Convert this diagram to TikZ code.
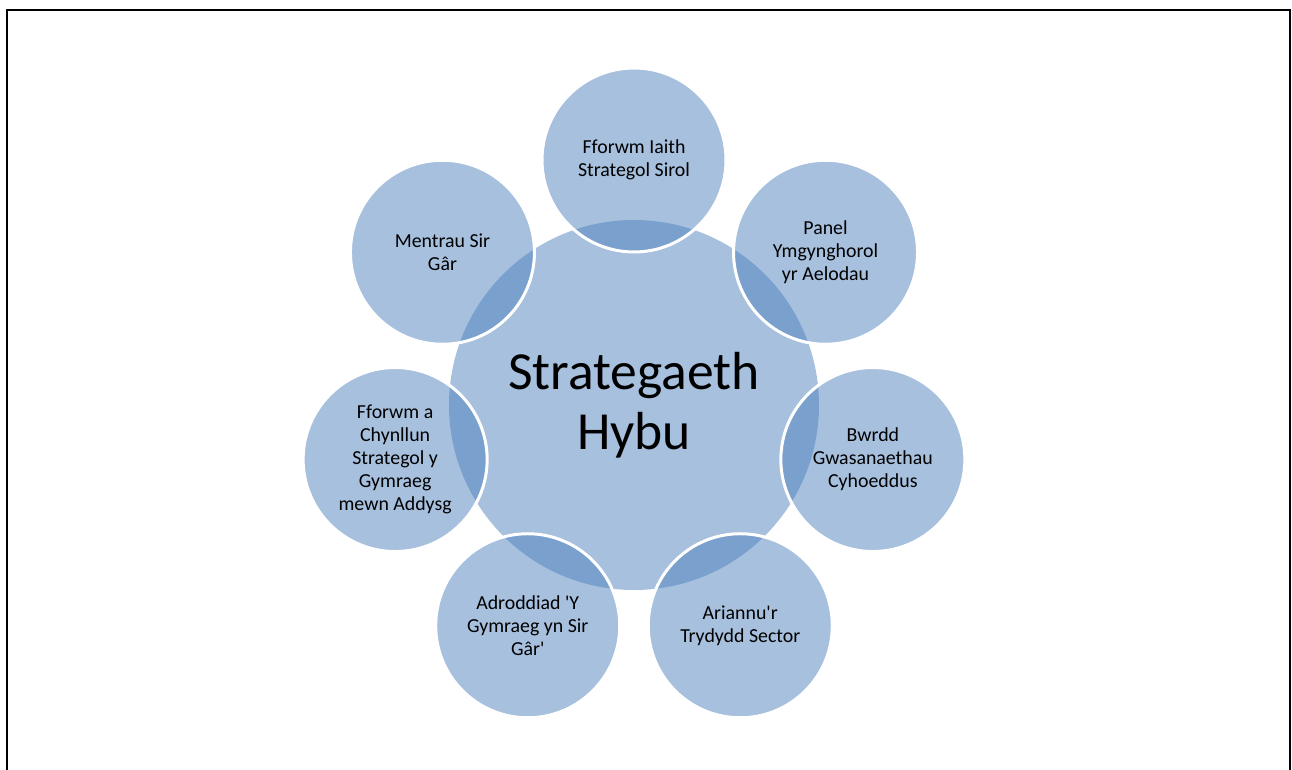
\documentclass[tikz,border=0pt]{standalone}
\usepackage{fontspec}
\setmainfont{Carlito}
\usepackage{tikz}
\definecolor{bubblefill}{HTML}{4F81BD}
\tikzset{
  bubble/.style={circle, minimum size=3.68cm, inner sep=0pt, fill=bubblefill, fill opacity=0.5,
    draw=white, line width=1.7pt, text opacity=1, text=black, align=center,
    font=\fontsize{11.3}{13}\selectfont},
  hub/.style={circle, minimum size=7.4cm, inner sep=0pt, fill=bubblefill, fill opacity=0.5,
    draw=none, text opacity=1, text=black, align=center,
    font=\fontsize{30.5}{34}\selectfont},
}

\begin{document}
\begin{tikzpicture}
			%%%%% START %%%%%
			\useasboundingbox (-12.68, -7.28) rectangle (13.16, 8.10);
			\draw[line width=0.04cm] (-12.54, -7.5) -- (-12.54, 7.90) -- (13.12, 7.90) -- (13.12, -7.5);
			
			\node[hub] (hybu) at (0, 0) {Strategaeth\\Hybu};
			
			\node[bubble] (fforwm) at (90:4.9) {Fforwm Iaith\\Strategol Sirol};
			\node[bubble] (panel) at (38.57:4.9) {Panel\\Ymgynghorol\\yr Aelodau};
			\node[bubble] (bwrdd) at (-12.86:4.9) {Bwrdd\\Gwasanaethau\\Cyhoeddus};
			\node[bubble] (ariannu) at (-64.29:4.9) {Ariannu\textquotesingle r\\Trydydd Sector};
			\node[bubble] (adroddiad) at (-115.71:4.9) {Adroddiad \textquotesingle Y\\Gymraeg yn Sir\\Gâr\textquotesingle};
			\node[bubble] (addysg) at (-167.14:4.9) {Fforwm a\\Chynllun\\Strategol y\\Gymraeg\\mewn Addysg};
			\node[bubble] (mentrau) at (141.43:4.9) {Mentrau Sir\\Gâr};
			
			%%%%% END %%%%%
\end{tikzpicture}
\end{document}
